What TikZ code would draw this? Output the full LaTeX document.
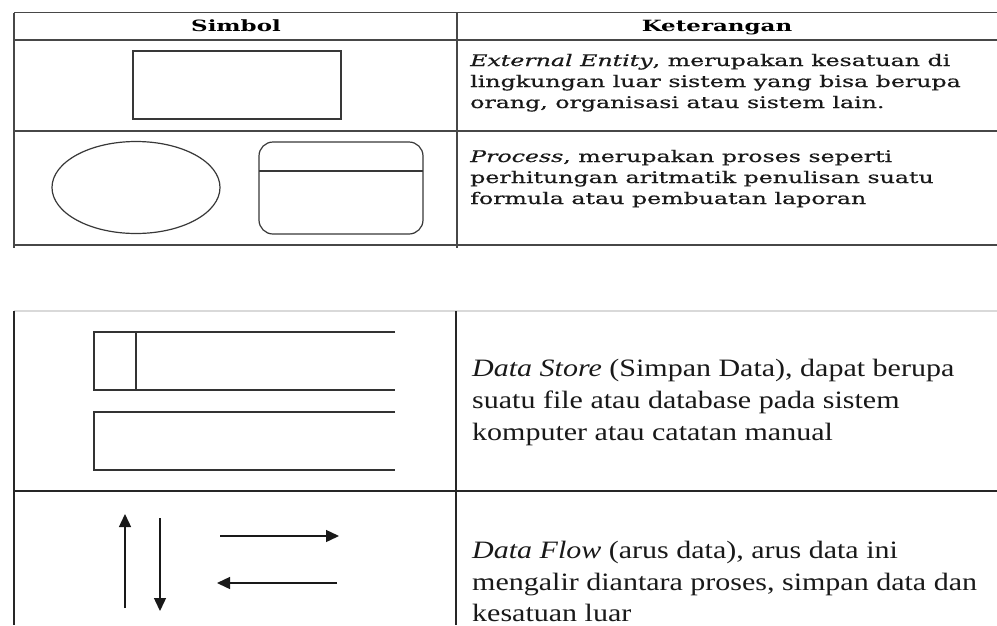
\documentclass[tikz,border=0pt]{standalone}
\usepackage{fontspec}
\newfontfamily\cellfont[FakeStretch=1.48, FakeBold=0.5]{DejaVu Serif}
\newfontfamily\headfont[FakeStretch=1.48]{DejaVu Serif}
\newfontfamily\bodyfont[FakeStretch=1.2]{Liberation Serif}
\usetikzlibrary{arrows.meta}

\begin{document}
\begin{tikzpicture}[x=1pt, y=-1pt,
  rule/.style={draw=black!72, line width=1.3pt},
  lowrule/.style={draw=black!85, line width=1.6pt},
  faintrule/.style={draw=black!15, line width=1.2pt},
  symbolline/.style={draw=black!78, line width=1.2pt},
  storeline/.style={draw=black!80, line width=1.5pt},
  flow/.style={draw=black!90, line width=1.4pt, -{Triangle[length=13pt,width=12pt]}},
  headtext/.style={anchor=base, inner sep=0, font=\headfont\bfseries\fontsize{15.5}{17}\selectfont},
  uptext/.style={anchor=base west, inner sep=0, text=black!90, font=\cellfont\fontsize{16}{18}\selectfont},
  lowtext/.style={anchor=base west, inner sep=0, text=black!90, font=\bodyfont\fontsize{25}{30}\selectfont}]
\useasboundingbox (0,0) rectangle (997,625);
\fill[white] (0,0) rectangle (997,625);

% ---------- upper table: grid ----------
\draw[rule] (14,12.5) -- (997,12.5);
\draw[rule] (14,40) -- (997,40);
\draw[rule] (14,131) -- (997,131);
\draw[rule] (14,245) -- (997,245);
\draw[rule] (14,12.5) -- (14,248);
\draw[rule] (457,12.5) -- (457,248);

\node[headtext] (hsym) at (236,31) {Simbol};
\node[headtext] (hket) at (717,31) {Keterangan};

% external entity
\draw[symbolline] (133,51) rectangle (341,119);
\node[uptext] (ee1) at (470,66) {\itshape External Entity\upshape, merupakan kesatuan di};
\node[uptext] (ee2) at (470,87) {lingkungan luar sistem yang bisa berupa};
\node[uptext] (ee3) at (470,108) {orang, organisasi atau sistem lain.};

% process
\draw[symbolline] (136,187.5) ellipse [x radius=84pt, y radius=46pt];
\draw[symbolline, rounded corners=14pt] (259,142) rectangle (423,234);
\draw[symbolline] (259,171) -- (423,171);
\node[uptext] (pr1) at (470,162) {\itshape Process\upshape, merupakan proses seperti};
\node[uptext] (pr2) at (470,183) {perhitungan aritmatik penulisan suatu};
\node[uptext] (pr3) at (470,204) {formula atau pembuatan laporan};

% ---------- lower table: grid ----------
\draw[faintrule] (14,311) -- (997,311);
\draw[lowrule] (14,311) -- (14,625);
\draw[lowrule] (456,311) -- (456,625);
\draw[lowrule] (14,491) -- (997,491);

% data store
\draw[storeline] (395,332) -- (94,332) -- (94,390) -- (395,390);
\draw[storeline] (136,332) -- (136,390);
\draw[storeline] (395,412) -- (94,412) -- (94,470) -- (395,470);
\node[lowtext] (ds1) at (472,376) {\itshape Data Store\upshape{} (Simpan Data), dapat berupa};
\node[lowtext] (ds2) at (472,408) {suatu file atau database pada sistem};
\node[lowtext] (ds3) at (472,440) {komputer atau catatan manual};

% data flow
\coordinate (upS) at (125,608);
\coordinate (upE) at (125,514);
\coordinate (dnS) at (160,518);
\coordinate (dnE) at (160,611);
\coordinate (rtS) at (220,536);
\coordinate (rtE) at (339,536);
\coordinate (ltS) at (337,583);
\coordinate (ltE) at (217,583);
\draw[flow] (upS) -- (upE);
\draw[flow] (dnS) -- (dnE);
\draw[flow] (rtS) -- (rtE);
\draw[flow] (ltS) -- (ltE);
\node[lowtext] (df1) at (472,558) {\itshape Data Flow\upshape{} (arus data), arus data ini};
\node[lowtext] (df2) at (472,590) {mengalir diantara proses, simpan data dan};
\node[lowtext] (df3) at (472,621) {kesatuan luar};
\end{tikzpicture}
\end{document}
